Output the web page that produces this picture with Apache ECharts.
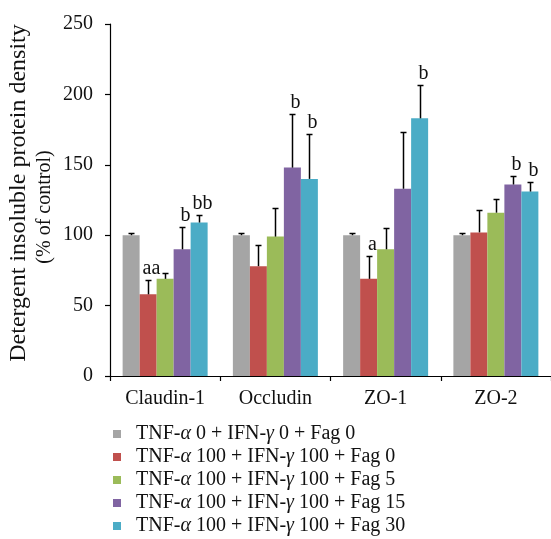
<!DOCTYPE html>
<html>
<head>
<meta charset="utf-8">
<script src="https://cdn.jsdelivr.net/npm/echarts@6/dist/echarts.min.js"></script>
<style>
  html, body { margin: 0; padding: 0; background: #fff; }
  #chart { width: 551px; height: 539px; }
</style>
</head>
<body>
<div id="chart"></div>
<script>
// Tight-junction proteins measured
const categories = ['Claudin-1', 'Occludin', 'ZO-1', 'ZO-2'];

// Treatment groups
const groupNames = [
  'TNF-α 0 + IFN-γ 0 + Fag 0',
  'TNF-α 100 + IFN-γ 100 + Fag 0',
  'TNF-α 100 + IFN-γ 100 + Fag 5',
  'TNF-α 100 + IFN-γ 100 + Fag 15',
  'TNF-α 100 + IFN-γ 100 + Fag 30'
];

// Mean density (% of control), one array per group
const control   = [100, 100, 100, 100];
const tnfFag0   = [58, 78, 69, 102];
const tnfFag5   = [69, 99, 90, 116];
const tnfFag15  = [90, 148, 133, 136];
const tnfFag30  = [109, 140, 183, 131];

// Standard deviations (upper error bar length)
const controlSD  = [1.5, 1.5, 1.5, 1.5];
const tnfFag0SD  = [10, 15, 16, 16];
const tnfFag5SD  = [4, 20, 15, 10];
const tnfFag15SD = [16, 38, 40, 6];
const tnfFag30SD = [5, 32, 24, 7];

// Significance letters above each bar ('' = none)
const controlSig  = ['', '', '', ''];
const tnfFag0Sig  = ['aa', '', 'a', ''];
const tnfFag5Sig  = ['', '', '', ''];
const tnfFag15Sig = ['b', 'b', '', 'b'];
const tnfFag30Sig = ['bb', 'b', 'b', 'b'];

// Y axis ticks
const yTicks = [0, 50, 100, 150, 200, 250];

// Y axis title lines
const yTitle = ['Detergent insoluble protein density', '(% of control)'];

const means = [control, tnfFag0, tnfFag5, tnfFag15, tnfFag30];
const sds = [controlSD, tnfFag0SD, tnfFag5SD, tnfFag15SD, tnfFag30SD];
const sigs = [controlSig, tnfFag0Sig, tnfFag5Sig, tnfFag15Sig, tnfFag30Sig];
const colors = ['#A5A5A5', '#C0504D', '#9BBB59', '#8064A2', '#4BACC6'];

const FONT = '"Liberation Serif", "DejaVu Serif", serif';
const BAR_W = 17;

// Error-bar records: [category index, mean, mean + sd, group index]
const errData = [];
const errLabels = [];
means.forEach((arr, g) => {
  arr.forEach((v, c) => {
    errData.push([c, v, v + sds[g][c], g]);
    errLabels.push(sigs[g][c]);
  });
});

const barSeries = means.map((arr, g) => ({
  name: groupNames[g],
  type: 'bar',
  data: arr,
  barWidth: BAR_W,
  barGap: '0%',
  itemStyle: { color: colors[g] },
  emphasis: { disabled: true },
  z: 2
}));

const errSeries = {
  type: 'custom',
  name: 'err',
  data: errData,
  z: 5,
  silent: true,
  encode: { x: 0, y: [1, 2] },
  renderItem(params, api) {
    const c = api.value(0);
    const g = api.value(3);
    const pBase = api.coord([c, api.value(1)]);
    const pTop = api.coord([c, api.value(2)]);
    const x = Math.round(pBase[0] + (g - 2) * BAR_W) + 0.5;
    const yTop = Math.round(pTop[1]) + 0.5;
    const children = [
      { type: 'line', shape: { x1: x, y1: pBase[1], x2: x, y2: yTop },
        style: { stroke: '#000', lineWidth: 1.5 } },
      { type: 'line', shape: { x1: x - 3, y1: yTop, x2: x + 3, y2: yTop },
        style: { stroke: '#000', lineWidth: 1.5 } }
    ];
    const lbl = errLabels[params.dataIndex];
    if (lbl) {
      children.push({
        type: 'text',
        style: {
          text: lbl, x: x + 3, y: yTop - 2,
          textAlign: 'center', textVerticalAlign: 'bottom',
          font: '20px ' + FONT, fill: '#111'
        }
      });
    }
    return { type: 'group', children };
  }
};

const chart = echarts.init(document.getElementById('chart'), null, { renderer: 'canvas' });

chart.setOption({
  animation: false,
  backgroundColor: '#fff',
  textStyle: { fontFamily: FONT, color: '#111' },
  grid: { left: 110, top: 24, width: 445, height: 352, containLabel: false },
  xAxis: {
    type: 'category',
    data: categories,
    axisLine: { lineStyle: { color: '#000', width: 1.2 } },
    axisTick: { show: true, length: 5, interval: 0, lineStyle: { color: '#000', width: 1.2 } },
    axisLabel: { fontSize: 20, fontFamily: FONT, color: '#111', margin: 13, interval: 0 },
    splitLine: { show: false }
  },
  yAxis: {
    type: 'value',
    min: yTicks[0],
    max: yTicks[yTicks.length - 1],
    interval: yTicks[1] - yTicks[0],
    axisLine: { show: true, lineStyle: { color: '#000', width: 1.2 } },
    axisTick: { show: true, length: 5, lineStyle: { color: '#000', width: 1.2 } },
    axisLabel: { fontSize: 20, fontFamily: FONT, color: '#111', margin: 17 },
    splitLine: { show: false }
  },
  // Rotated two-line y-axis title
  graphic: [
    {
      type: 'text', x: 19, y: 193, rotation: Math.PI / 2,
      style: { text: yTitle[0], font: '24px ' + FONT, fill: '#111',
               textAlign: 'center', textVerticalAlign: 'middle' }
    },
    {
      type: 'text', x: 45, y: 207, rotation: Math.PI / 2,
      style: { text: yTitle[1], font: '20px ' + FONT, fill: '#111',
               textAlign: 'center', textVerticalAlign: 'middle' }
    }
  ],
  legend: {
    orient: 'vertical',
    left: 108,
    top: 419,
    height: 130,
    icon: 'rect',
    itemWidth: 8,
    itemHeight: 8,
    itemGap: 3,
    data: groupNames,
    selectedMode: false,
    formatter: name => name.replace(/([αγ])/g, '{g|$1}'),
    textStyle: {
      fontSize: 20, fontFamily: FONT, color: '#111', lineHeight: 20,
      padding: [0, 0, 0, 10],
      rich: { g: { fontSize: 20, fontFamily: FONT, fontStyle: 'italic', color: '#111', lineHeight: 20 } }
    }
  },
  series: [...barSeries, errSeries]
});
</script>
</body>
</html>
